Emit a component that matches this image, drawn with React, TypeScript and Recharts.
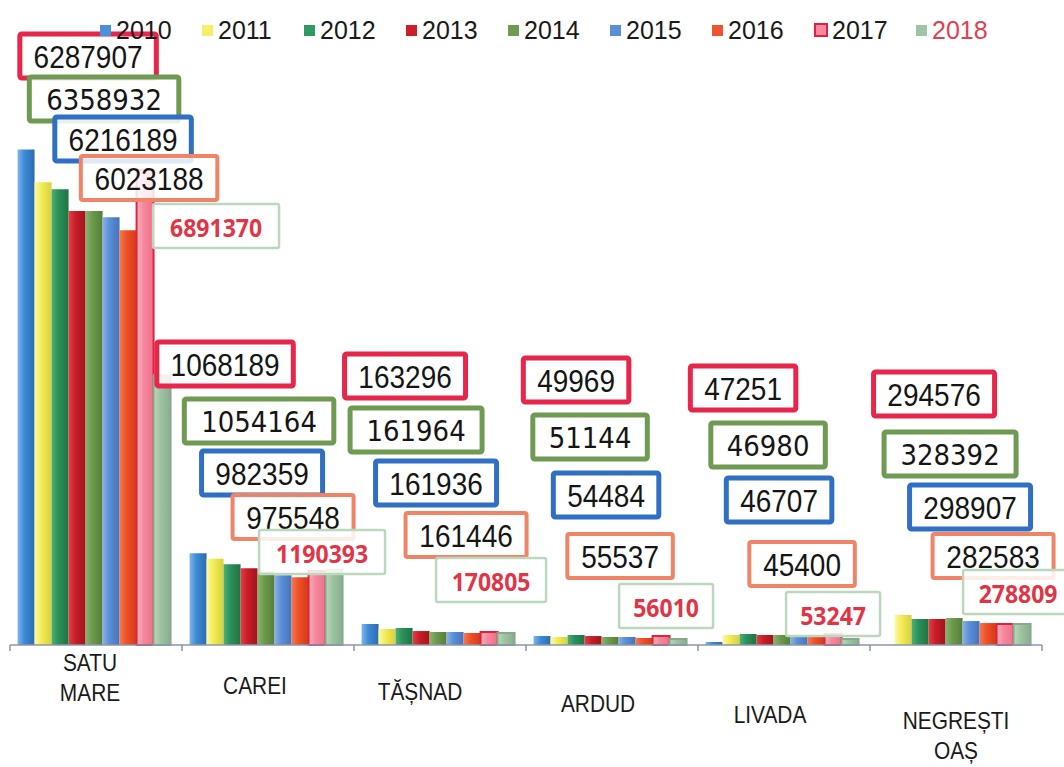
import React from 'react';
import { BarChart, Bar, XAxis, YAxis, Legend, LabelList } from 'recharts';

// ---------- data ----------
const categories = ['SATU MARE', 'CAREI', 'TĂȘNAD', 'ARDUD', 'LIVADA', 'NEGREȘTI OAȘ'];
const years = ['2010', '2011', '2012', '2013', '2014', '2015', '2016', '2017', '2018'];

// bar values
const v2010 = [7240000, 1340000, 307000, 131000, 44000, 0];
const v2011 = [6760000, 1260000, 234000, 117000, 146000, 438000];
const v2012 = [6660000, 1180000, 248000, 146000, 161000, 380000];
const v2013 = [6340000, 1120000, 204000, 131000, 146000, 380000];
const v2014 = [6340000, 1070000, 190000, 117000, 146000, 394000];
const v2015 = [6250000, 1020000, 190000, 117000, 131000, 350000];
const v2016 = [6060000, 990000, 175000, 102000, 117000, 321000];
const v2017 = [6940000, 1080000, 190000, 131000, 161000, 307000];
const v2018 = [3940000, 1100000, 175000, 88000, 88000, 307000];

// values written in the callout boxes
const box2017 = [6287907, 1068189, 163296, 49969, 47251, 294576];
const box2014 = [6358932, 1054164, 161964, 51144, 46980, 328392];
const box2015 = [6216189, 982359, 161936, 54484, 46707, 298907];
const box2016 = [6023188, 975548, 161446, 55537, 45400, 282583];
const box2018 = [6891370, 1190393, 170805, 56010, 53247, 278809];

const seriesValues = [v2010, v2011, v2012, v2013, v2014, v2015, v2016, v2017, v2018];

const data = categories.map((name, i) => {
  const row: Record<string, any> = { name };
  years.forEach((y, k) => {
    row[y] = seriesValues[k][i];
  });
  return row;
});

// ---------- styles ----------
const grad = [
  ['#7db7ee', '#3d8ad6', '#2c6cb0'],
  ['#fbf8a8', '#f3ec55', '#d9d03c'],
  ['#4fb07a', '#2a9158', '#1d7444'],
  ['#e04046', '#c81e28', '#a0141c'],
  ['#8ab46c', '#6b9a4c', '#557e3a'],
  ['#8ab2e8', '#5a8ed6', '#4474bc'],
  ['#f6794e', '#ef5028', '#d03c18'],
  ['#fbb3c1', '#f5899f', '#ef6f88'],
  ['#bad8bc', '#9fc4a3', '#88ae8d'],
];
const strokes = ['none', 'none', 'none', 'none', 'none', 'none', 'none', '#e3203e', '#8aa890'];
const legendColors = ['#4a90dc', '#f5ef6a', '#2e9a62', '#cc1f2a', '#6f9c50', '#5b8fd6', '#ef5330', '#f5899f', '#9fc4a3'];

const W = 1064;
const H = 767;
const M = { top: 29, right: 22, left: 10, bottom: 12 };
const BAND = (W - M.left - M.right) / categories.length;

const boxRows = [
  { vals: box2017, stroke: '#e8254a', sw: 5, font: "'Liberation Sans', Arial, sans-serif", size: 28, color: '#151515', weight: 400, charW: 15.5, pad: 28 },
  { vals: box2014, stroke: '#6f9a52', sw: 5, font: "'DejaVu Sans', Verdana, sans-serif", size: 26, color: '#151515', weight: 400, charW: 17.5, pad: 27 },
  { vals: box2015, stroke: '#2f6fc4', sw: 5, font: "'Liberation Sans', Arial, sans-serif", size: 28, color: '#151515', weight: 400, charW: 15.5, pad: 28 },
  { vals: box2016, stroke: '#f08466', sw: 4, font: "'Liberation Sans', Arial, sans-serif", size: 28, color: '#151515', weight: 400, charW: 15.5, pad: 28 },
  { vals: box2018, stroke: '#bcd8bc', sw: 2.5, font: "'Open Sans', sans-serif", size: 23, color: '#e23445', weight: 700, charW: 16, pad: 14 },
];
// horizontal offsets of each box from its category centre, and vertical centres
const boxDx = [
  [-6, -41, -33, -34, -39, -20],
  [10, -7, -22, -20, -14, -4],
  [29, -4, -2, -4, -3, 16],
  [55, 27, 28, 10, 20, 39],
  [122, 56, 53, 56, 51, 64],
];
const boxCy = [
  [56, 364, 376, 380, 388, 394],
  [99, 421, 430, 437, 445, 454],
  [139, 473, 483, 495, 500, 507],
  [178, 517, 535, 556, 564, 556],
  [226, 552, 580, 606, 614, 592],
];

const renderBoxes = (props: any) => {
  const x = Number(props.x);
  const w = Number(props.width);
  const catCenter = x + w / 2 - 4 * w;
  const ci = Math.max(0, Math.min(categories.length - 1, Math.round((catCenter - M.left - BAND / 2) / BAND)));
  return (
    <g>
      {boxRows.map((r, k) => {
        const txt = String(r.vals[ci]);
        const bw = txt.length * r.charW + r.pad;
        const bh = 44;
        const cx = catCenter + boxDx[k][ci];
        const cy = boxCy[k][ci];
        return (
          <g key={k}>
            <rect
              x={cx - bw / 2}
              y={cy - bh / 2}
              width={bw}
              height={bh}
              fill="#ffffff"
              fillOpacity={0.85}
              stroke={r.stroke}
              strokeWidth={r.sw}
              rx={2}
            />
            <text
              transform={`translate(${cx},${cy + 1}) scale(1,1.1)`}
              x={0}
              y={0}
              textAnchor="middle"
              dominantBaseline="central"
              fontFamily={r.font}
              fontSize={r.size}
              fontWeight={r.weight}
              fill={r.color}
            >
              {txt}
            </text>
          </g>
        );
      })}
    </g>
  );
};

const tickDx = [-6, -13, -20, -14, -14, 0];
const tickDy = [17, 40, 46, 58, 69, 75];

const CategoryTick = (props: any) => {
  const { x, y, payload, index } = props;
  const i = typeof index === 'number' ? index : categories.indexOf(payload.value);
  const words = String(payload.value).split(' ');
  const lines = words.length > 1 ? words : [payload.value];
  return (
    <g>
      <line x1={x - BAND / 2} y1={y} x2={x - BAND / 2} y2={y + 6} stroke="#8d96aa" strokeWidth={1.5} />
      {i === categories.length - 1 && (
        <line x1={x + BAND / 2} y1={y} x2={x + BAND / 2} y2={y + 6} stroke="#8d96aa" strokeWidth={1.5} />
      )}
      {lines.map((ln: string, j: number) => (
        <text
          key={j}
          transform={`translate(${x + tickDx[i]},${y + tickDy[i] + j * 30}) scale(0.95,1.12)`}
          x={0}
          y={0}
          textAnchor="middle"
          dominantBaseline="central"
          fontFamily="'Liberation Sans', Arial, sans-serif"
          fontSize={22}
          fill="#1a1a1a"
        >
          {ln}
        </text>
      ))}
    </g>
  );
};

const LegendContent = () => (
  <div style={{ position: 'relative', width: W, height: 34, fontFamily: "'Liberation Sans', Arial, sans-serif" }}>
    {years.map((y, k) => {
      const left = 100 + k * 102;
      const big = k === 7;
      const sz = big ? 14 : 11;
      return (
        <div
          key={y}
          style={{ position: 'absolute', left, top: 0, height: 34, display: 'flex', alignItems: 'center', whiteSpace: 'nowrap' }}
        >
          <span
            style={{
              display: 'inline-block',
              width: sz,
              height: sz,
              background: legendColors[k],
              border: big ? '2px solid #e3203e' : 'none',
              boxSizing: 'border-box',
              marginRight: big ? 4 : 5,
            }}
          />
          <span style={{ fontSize: 25, color: k === 8 ? '#e04050' : '#1a1a1a', lineHeight: '34px' }}>{y}</span>
        </div>
      );
    })}
  </div>
);

export default function App() {
  return (
    <div style={{ position: 'absolute', left: 0, top: 0, width: W, height: H, background: '#ffffff' }}>
      <BarChart width={W} height={H} data={data} margin={M} barCategoryGap="4.4%" barGap={0}>
        <defs>
          {grad.map((g, k) => (
            <linearGradient key={k} id={`bg${k}`} x1="0" y1="0" x2="1" y2="0">
              <stop offset="0%" stopColor={g[0]} />
              <stop offset="40%" stopColor={g[1]} />
              <stop offset="100%" stopColor={g[2]} />
            </linearGradient>
          ))}
        </defs>
        <XAxis
          dataKey="name"
          height={110}
          axisLine={{ stroke: '#8d96aa', strokeWidth: 1.5 }}
          tickLine={false}
          tickSize={0}
          tickMargin={0}
          interval={0}
          tick={<CategoryTick />}
        />
        <YAxis hide domain={[0, 9000000]} />
        <Legend
          verticalAlign="middle"
          align="center"
          layout="horizontal"
          wrapperStyle={{ position: 'absolute', top: 13, left: 0, width: W, height: 34 }}
          content={() => <LegendContent />}
        />
        {years.map((y, k) => (
          <Bar
            key={y}
            dataKey={y}
            fill={`url(#bg${k})`}
            stroke={strokes[k]}
            strokeWidth={strokes[k] === 'none' ? 0 : 2}
            isAnimationActive={false}
          >
            {k === 8 && <LabelList dataKey={y} content={renderBoxes} />}
          </Bar>
        ))}
      </BarChart>
    </div>
  );
}
